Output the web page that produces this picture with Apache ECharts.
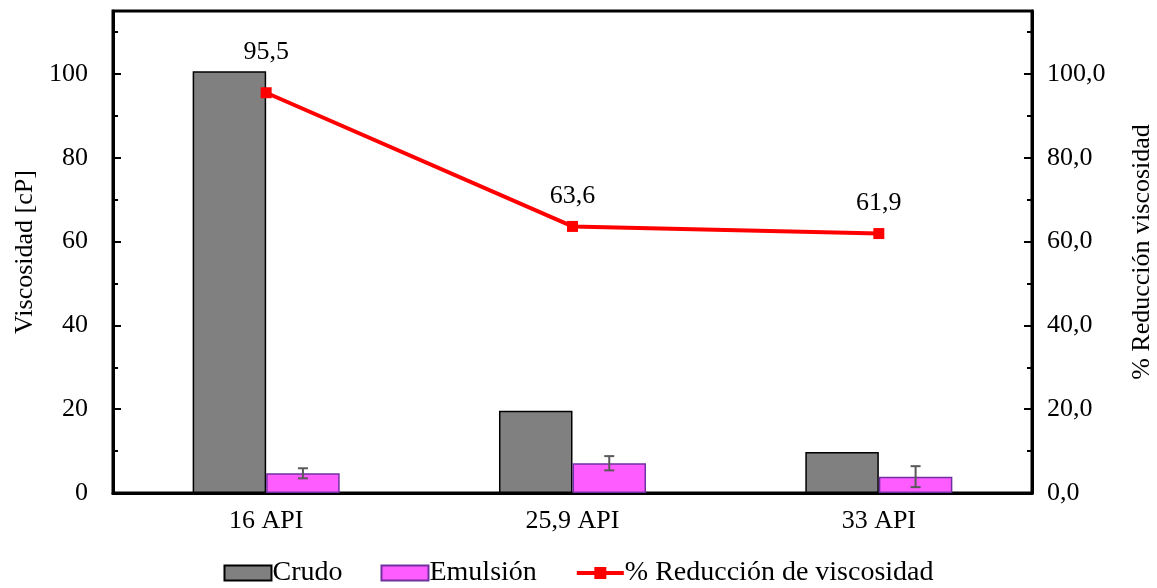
<!DOCTYPE html>
<html><head><meta charset="utf-8">
<script src="https://cdn.jsdelivr.net/npm/echarts@6/dist/echarts.min.js"></script>
<style>html,body{margin:0;padding:0;background:#fff}#c{width:1157px;height:588px}</style>
</head><body><div id="c"></div>
<script>
const categories = ['16 API', '25,9 API', '33 API'];
const crudo = [100.6, 19.6, 9.8];
const emulsion = [4.7, 7.1, 3.9];
const emulsionErr = [1.2, 1.7, 2.5];
const reduccion = [95.5, 63.6, 61.9];
const legendNames = ['Crudo', 'Emulsión', '% Reducción de viscosidad'];

const FONT = 'Liberation Serif';
const FS = 26;
const chart = echarts.init(document.getElementById('c'));
const fmtComma = (v, d) => v.toFixed(d).replace('.', ',');

chart.setOption({
  animation: false,
  textStyle: { fontFamily: FONT, color: '#000' },
  grid: { left: 113, right: 125, top: 11, bottom: 95, show: true, borderColor: '#000', borderWidth: 3, backgroundColor: 'transparent', containLabel: false, outerBoundsMode: 'none' },
  legend: {
    bottom: -4, left: 'center', itemGap: 38, itemWidth: 47, itemHeight: 15,
    textStyle: { fontFamily: FONT, fontSize: 28, color: '#000', padding: [0, 0, 0, -4] },
    data: [
      { name: legendNames[0], icon: 'rect' },
      { name: legendNames[1], icon: 'rect' },
      { name: legendNames[2] }
    ],
    lineStyle: { width: 4 }
  },
  xAxis: {
    type: 'category', data: categories,
    axisLine: { lineStyle: { color: '#000', width: 3 } },
    axisTick: { show: false },
    axisLabel: { fontFamily: FONT, fontSize: FS, color: '#000', margin: 15 }
  },
  yAxis: [{
    type: 'value', min: 0, max: 115, interval: 20,
    name: 'Viscosidad [cP]', nameLocation: 'middle', nameGap: 75,
    nameTextStyle: { fontFamily: FONT, fontSize: FS, color: '#000' },
    axisLine: { show: true, lineStyle: { color: '#000', width: 3 } },
    axisTick: { show: true, inside: true, length: 8, lineStyle: { color: '#000', width: 2 } },
    minorTick: { show: true, splitNumber: 2, length: 5, lineStyle: { color: '#000', width: 2 } },
    splitLine: { show: false },
    axisLabel: { fontFamily: FONT, fontSize: FS, color: '#000', margin: 25, showMaxLabel: false }
  }, {
    type: 'value', min: 0, max: 115, interval: 20, position: 'right',
    name: '% Reducción viscosidad', nameLocation: 'middle', nameGap: 97, nameRotate: 90,
    nameTextStyle: { fontFamily: FONT, fontSize: FS, color: '#000' },
    axisLine: { show: true, lineStyle: { color: '#000', width: 3 } },
    axisTick: { show: true, inside: true, length: 8, lineStyle: { color: '#000', width: 2 } },
    minorTick: { show: true, splitNumber: 2, length: 5, lineStyle: { color: '#000', width: 2 } },
    splitLine: { show: false },
    axisLabel: { fontFamily: FONT, fontSize: FS, color: '#000', margin: 15, showMaxLabel: false, formatter: v => fmtComma(v, 1) }
  }],
  series: [{
    name: legendNames[0], type: 'bar', data: crudo, barWidth: '24%', barGap: '0%',
    itemStyle: { color: '#808080', borderColor: '#000', borderWidth: 1.5 }
  }, {
    name: legendNames[1], type: 'bar', data: emulsion, barWidth: '24%', barGap: '0%',
    itemStyle: { color: '#FF5CFF', borderColor: '#7030A0', borderWidth: 1.5 }
  }, {
    name: 'err', type: 'custom', data: emulsion.map((v, i) => [i, v - emulsionErr[i], v + emulsionErr[i]]),
    z: 5,
    renderItem: (params, api) => {
      const i = api.value(0);
      const lo = api.coord([i, api.value(1)]);
      const hi = api.coord([i, api.value(2)]);
      const band = api.size([1, 0])[0];
      const x = lo[0] + band * 0.12;
      const w = 5;
      const st = { stroke: '#595959', lineWidth: 2 };
      return { type: 'group', children: [
        { type: 'line', shape: { x1: x, y1: lo[1], x2: x, y2: hi[1] }, style: st },
        { type: 'line', shape: { x1: x - w, y1: lo[1], x2: x + w, y2: lo[1] }, style: st },
        { type: 'line', shape: { x1: x - w, y1: hi[1], x2: x + w, y2: hi[1] }, style: st }
      ]};
    }
  }, {
    name: legendNames[2], type: 'line', yAxisIndex: 1,
    data: reduccion.map((v, i) => i === 0 ? { value: v, label: { distance: 22 } } : v),
    symbol: 'rect', symbolSize: 11,
    lineStyle: { color: '#FF0000', width: 4 }, itemStyle: { color: '#FF0000' },
    label: { show: true, position: 'top', distance: 12, fontFamily: FONT, fontSize: FS, color: '#000', formatter: p => fmtComma(p.value, 1) },
    z: 10
  }]
});
</script></body></html>
